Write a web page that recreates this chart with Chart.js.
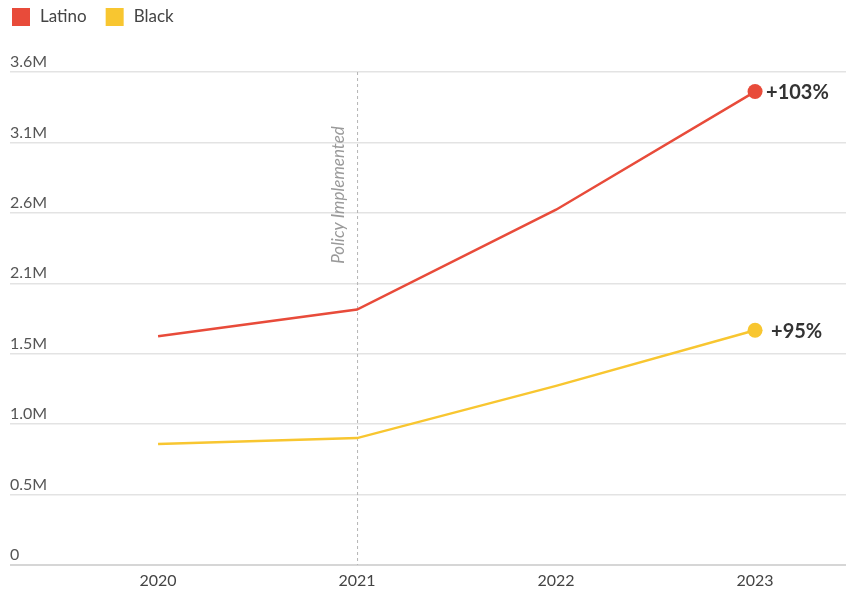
<!DOCTYPE html>
<html>
<head>
<meta charset="utf-8">
<script src="https://cdn.jsdelivr.net/npm/chart.js@4.4.1/dist/chart.umd.min.js"></script>
<style>
  html, body { margin: 0; padding: 0; background: #fff; }
  #wrap { width: 846px; height: 590px; position: relative; }
</style>
</head>
<body>
<div id="wrap"><canvas id="growthChart"></canvas></div>
<script>
// data (millions)
const years = [2020, 2021, 2022, 2023];
const latino = [1.673, 1.868, 2.598, 3.462];
const black = [0.884, 0.928, 1.31, 1.717];
const seriesNames = ['Latino', 'Black'];
const changeLabels = ['+103%', '+95%'];
const yTickValues = [0, 0.515, 1.03, 1.545, 2.06, 2.575, 3.09, 3.605];
const yTickLabels = ['0', '0.5M', '1.0M', '1.5M', '2.1M', '2.6M', '3.1M', '3.6M'];
const policyYear = 2021;

const RED = '#e84b3a';
const YELLOW = '#f8c630';
const FONT = 'Lato, "Open Sans", sans-serif';

const lastIdx = years.length - 1;

const extras = {
    id: 'extras',
    beforeDatasetsDraw(chart) {
        const { ctx, chartArea, scales } = chart;
        const x = scales.x.getPixelForValue(policyYear);
        ctx.save();
        ctx.strokeStyle = '#b5b5b5';
        ctx.lineWidth = 1;
        ctx.setLineDash([3, 3]);
        ctx.beginPath();
        ctx.moveTo(x + 0.5, chartArea.top);
        ctx.lineTo(x + 0.5, chartArea.bottom);
        ctx.stroke();
        ctx.setLineDash([]);
        ctx.translate(x - 19, 195);
        ctx.rotate(-Math.PI / 2);
        ctx.font = 'italic 17px ' + FONT;
        ctx.fillStyle = '#9a9a9a';
        ctx.textAlign = 'center';
        ctx.textBaseline = 'middle';
        ctx.fillText('Policy Implemented', 0, 0);
        ctx.restore();
    },
    afterDatasetsDraw(chart) {
        const { ctx } = chart;
        ctx.save();
        ctx.font = 'bold 20px ' + FONT;
        ctx.fillStyle = '#333';
        ctx.textBaseline = 'middle';
        chart.data.datasets.forEach((ds, i) => {
            const pt = chart.getDatasetMeta(i).data[lastIdx];
            ctx.fillText(changeLabels[i], pt.x + (i === 0 ? 11 : 16), pt.y + 1);
        });
        // legend
        ctx.font = '17px ' + FONT;
        ctx.textBaseline = 'middle';
        let lx = 12;
        [RED, YELLOW].forEach((c, i) => {
            ctx.fillStyle = c;
            ctx.fillRect(lx, 8, 18, 18);
            ctx.fillStyle = '#444';
            ctx.fillText(seriesNames[i], lx + 28, 17);
            lx += 28 + ctx.measureText(seriesNames[i]).width + 19;
        });
        ctx.restore();
    }
};

const ctx = document.getElementById('growthChart').getContext('2d');

const growthChart = new Chart(ctx, {
    type: 'line',
    data: {
        datasets: [{
            label: seriesNames[0],
            data: years.map((y, i) => ({ x: y, y: latino[i] })),
            borderColor: RED,
            backgroundColor: RED,
            borderWidth: 2.5,
            pointRadius: c => c.dataIndex === lastIdx ? 7.5 : 0,
            pointBorderWidth: 0,
        }, {
            label: seriesNames[1],
            data: years.map((y, i) => ({ x: y, y: black[i] })),
            borderColor: YELLOW,
            backgroundColor: YELLOW,
            borderWidth: 2.5,
            pointRadius: c => c.dataIndex === lastIdx ? 7.5 : 0,
            pointBorderWidth: 0,
        }]
    },
    options: {
        responsive: true,
        maintainAspectRatio: false,
        animation: false,
        events: [],
        layout: { autoPadding: false, padding: { left: 10, right: 0, top: 72, bottom: 0 } },
        scales: {
            x: {
                type: 'linear',
                min: 2019.256,
                max: 2023.457,
                afterBuildTicks: s => { s.ticks = years.map(v => ({ value: v })); },
                afterFit: s => { s.paddingLeft = 0; s.paddingRight = 0; s.height = 25; },
                grid: { display: false, drawTicks: false },
                border: { display: false },
                ticks: {
                    callback: v => String(v),
                    color: '#444',
                    font: { family: FONT, size: 16 },
                    padding: 6,
                    maxRotation: 0,
                },
            },
            y: {
                min: 0,
                max: 3.605,
                afterBuildTicks: s => { s.ticks = yTickValues.map(v => ({ value: v })); },
                grid: {
                    color: c => c.tick && c.tick.value === 0 ? '#d6d6d6' : '#e3e3e3',
                    lineWidth: c => c.tick && c.tick.value === 0 ? 2 : 1.5,
                    drawTicks: false,
                },
                border: { display: false },
                ticks: {
                    mirror: true,
                    padding: 0,
                    labelOffset: -10,
                    color: '#555',
                    font: { family: FONT, size: 16 },
                    callback: (v, i) => yTickLabels[i],
                },
            }
        },
        plugins: {
            legend: { display: false },
            tooltip: { enabled: false },
        }
    },
    plugins: [extras]
});
</script>
</body>
</html>
